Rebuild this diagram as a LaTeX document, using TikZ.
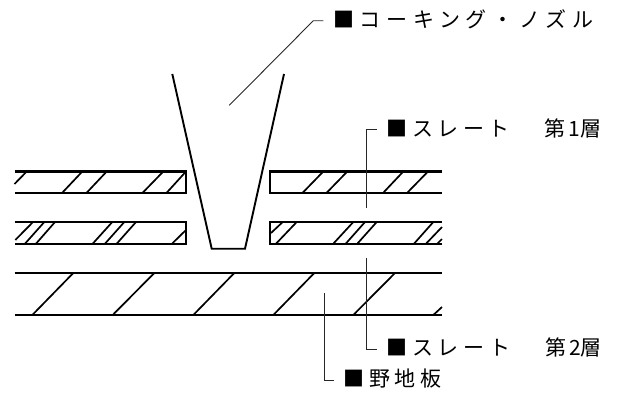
\documentclass[tikz,border=0pt]{standalone}
\usepackage{fontspec}
\setmainfont{Noto Sans CJK JP}
\newfontfamily\jplabel[LetterSpace=22]{Noto Sans CJK JP}
\newfontfamily\jpwide[LetterSpace=27]{Noto Sans CJK JP}
\newcommand{\tight}[1]{\hspace{3pt}{\addfontfeature{LetterSpace=35}#1}}
\tikzset{
  slab/.style={line width=2.3pt,line cap=butt,line join=miter},
  hatch/.style={line width=1.7pt,line cap=butt},
  nozzle/.style={line width=1.9pt,line join=miter},
  leader/.style={line width=0.9pt,draw=black!85},
  lbl/.style={anchor=west,inner xsep=9.5pt,inner ysep=0pt,text height=16pt,text depth=2.4pt,font=\fontsize{21}{21}\selectfont\jplabel},
  lblwide/.style={lbl,font=\fontsize{21}{21}\selectfont\jpwide}
}
\begin{document}
\begin{tikzpicture}[x=1pt,y=-1pt]
\useasboundingbox (0,0) rectangle (617,392);
% slabs
\draw[slab] (14.5,171.5) -- (186,171.5) -- (186,192.7) -- (14.5,192.7);
\draw[slab] (442,171.5) -- (270,171.5) -- (270,192.7) -- (442,192.7);
\draw[slab] (14.5,222) -- (186,222) -- (186,243.7) -- (14.5,243.7);
\draw[slab] (442,222) -- (270,222) -- (270,243.7) -- (442,243.7);
\draw[slab] (14.5,273) -- (442,273);
\draw[slab] (14.5,315) -- (442,315);
% hatching, layer 1
\draw[hatch] (14.5,184) -- (26.7,171.5);
\foreach \a/\b in {62.3/82.3,86.7/106.7,142.7/163.3,166.7/186,302.7/323.3,326.7/347.3,383.3/403.3,407.3/428}
  \draw[hatch] (\a,192.7) -- (\b,171.5);
% hatching, layer 2
\draw[hatch] (15.3,240) -- (33,222);
\draw[hatch] (271,233) -- (282.7,222);
\draw[hatch] (172,243.7) -- (186,230);
\draw[hatch] (426,243.7) -- (442,227);
\draw[hatch] (437.3,243.7) -- (442,239);
\foreach \a/\b in {25/44.3,36/55,92.7/112.3,105/124.3,116.7/136,276/296.7,333.3/353.3,345.7/365,357.3/376.7,414/433.3}
  \draw[hatch] (\a,243.7) -- (\b,222);
% hatching, base
\foreach \a/\b in {32.3/73.3,112.7/154.3,193.3/234.3,273.3/314.3,353.3/395}
  \draw[hatch] (\a,315) -- (\b,273);
\draw[hatch] (433.3,315) -- (442,307);
% nozzle
\draw[nozzle] (172.3,74) -- (211.7,248.7) -- (245,248.7) -- (284,74);
% labels
\node[lblwide] (nz) at (323.3,20.7) {■コーキング・ノズル};
\node[lbl] (s1) at (376.7,129.3) {■スレート\hspace{35pt}第\tight{1}層};
\node[lbl] (s2) at (377,349) {■スレート\hspace{35pt}第\tight{2}層};
\node[lbl] (nj) at (334,380) {■野地板};
% leaders
\coordinate (nzt) at (229.3,105.3);
\coordinate (nze) at (313.3,20.7);
\coordinate (s1t) at (366.7,207.7);
\coordinate (s1e) at (366.7,129.3);
\coordinate (s2t) at (366.7,258.3);
\coordinate (s2e) at (366.7,349);
\coordinate (njt) at (324,293.3);
\coordinate (nje) at (324,380);
\draw[leader] (nzt) -- (nze) -- (nz.west);
\draw[leader] (s1t) -- (s1e) -- (s1.west);
\draw[leader] (s2t) -- (s2e) -- (s2.west);
\draw[leader] (njt) -- (nje) -- (nj.west);
\end{tikzpicture}
\end{document}
